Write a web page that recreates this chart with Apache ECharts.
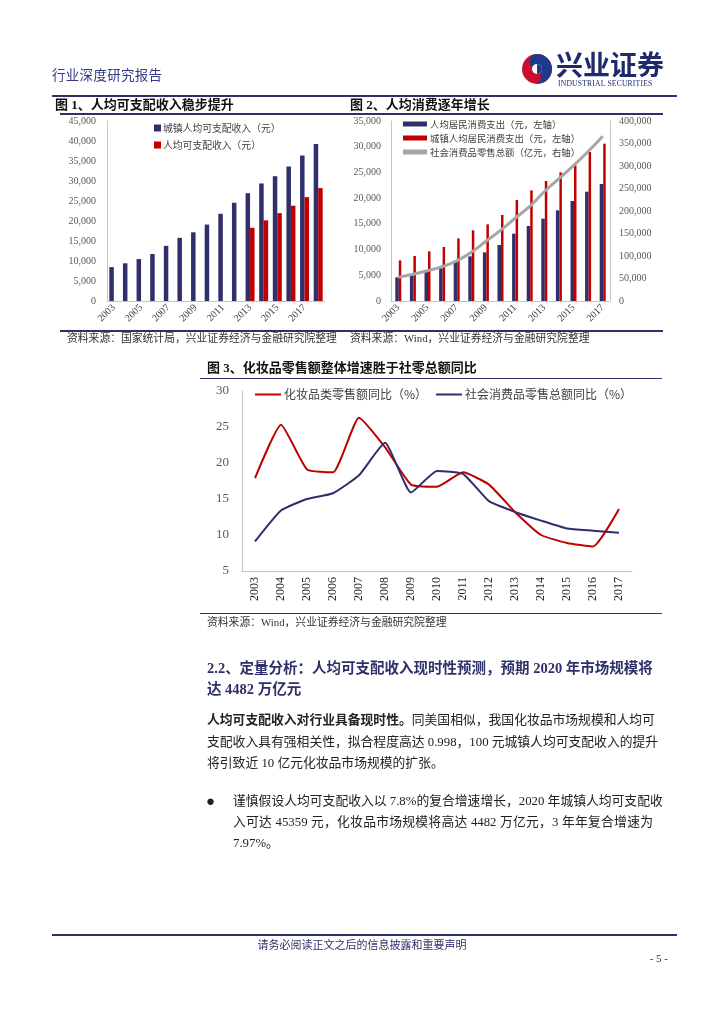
<!DOCTYPE html>
<html><head><meta charset="utf-8">
<script src="https://cdn.jsdelivr.net/npm/echarts@6/dist/echarts.min.js"></script>
<style>
body{margin:0;width:724px;height:1024px;position:relative;background:#fff;overflow:hidden;font-family:'Liberation Serif','Noto Sans CJK SC',serif;}
#chart{position:absolute;left:0;top:0;width:724px;height:1024px;}
.t{position:absolute;white-space:nowrap;line-height:1;color:#222;z-index:2;}
.hl{position:absolute;background:#2e3169;z-index:2;}
.j{text-align:justify;text-align-last:justify;}
</style></head><body>
<div id="chart"></div>

<div class="t" style="left:52px;top:69px;font-size:13.5px;color:#333a86;letter-spacing:0.3px;">行业深度研究报告</div>
<svg style="position:absolute;left:521px;top:51px;z-index:2" width="32" height="36" viewBox="0 0 32 36">
  <circle cx="16" cy="18" r="15" fill="#c8102e"/>
  <path d="M16 3 A15 15 0 0 1 16 33 A9 9 0 0 0 16 18 A7 7 0 0 1 16 3 Z" fill="#1f3a8a"/>
  <circle cx="16" cy="18" r="5" fill="#fff"/>
  <path d="M16 13 A5 5 0 0 1 16 23 Z" fill="#1f3a8a"/>
</svg>
<div class="t" style="left:556px;top:50px;font-size:27px;font-weight:bold;color:#1f2a6b;font-family:'Noto Sans CJK SC';">兴业证券</div>
<div class="t" style="left:558px;top:80px;font-size:7.6px;color:#1f2a6b;letter-spacing:0.2px;">INDUSTRIAL SECURITIES</div>
<div class="hl" style="left:52px;top:95px;width:625px;height:2px;"></div>

<div class="t" style="left:55px;top:98px;font-size:13px;font-weight:bold;color:#111;">图 1、人均可支配收入稳步提升</div>
<div class="t" style="left:350px;top:98px;font-size:13px;font-weight:bold;color:#111;">图 2、人均消费逐年增长</div>
<div class="hl" style="left:60px;top:113px;width:603px;height:1.5px;"></div>
<div class="hl" style="left:60px;top:330px;width:603px;height:1.5px;"></div>
<div class="t" style="left:67px;top:333px;font-size:10.8px;color:#333;">资料来源：国家统计局，兴业证券经济与金融研究院整理</div>
<div class="t" style="left:350px;top:333px;font-size:10.8px;color:#333;">资料来源：Wind，兴业证券经济与金融研究院整理</div>

<div class="t" style="left:207px;top:361px;font-size:13px;font-weight:bold;color:#111;">图 3、化妆品零售额整体增速胜于社零总额同比</div>
<div class="hl" style="left:200px;top:377.5px;width:462px;height:1.5px;"></div>
<div class="hl" style="left:200px;top:612.5px;width:462px;height:1.5px;"></div>
<div class="t" style="left:207px;top:617px;font-size:10.8px;color:#333;">资料来源：Wind，兴业证券经济与金融研究院整理</div>

<div class="t" style="left:207px;top:661px;font-size:14.5px;font-weight:bold;color:#2e3169;">2.2、定量分析：人均可支配收入现时性预测，预期 2020 年市场规模将</div>
<div class="t" style="left:207px;top:682px;font-size:14.5px;font-weight:bold;color:#2e3169;">达 4482 万亿元</div>

<div class="t j" style="left:207px;top:714px;width:446px;font-size:12.8px;"><b>人均可支配收入对行业具备现时性。</b>同美国相似，我国化妆品市场规模和人均可</div>
<div class="t j" style="left:207px;top:736px;width:446px;font-size:12.8px;">支配收入具有强相关性，拟合程度高达 0.998，100 元城镇人均可支配收入的提升</div>
<div class="t" style="left:207px;top:757px;font-size:12.8px;">将引致近 10 亿元化妆品市场规模的扩张。</div>

<div class="t" style="left:206px;top:794px;font-size:15px;">●</div>
<div class="t j" style="left:233px;top:795px;width:420px;font-size:12.8px;">谨慎假设人均可支配收入以 7.8%的复合增速增长，2020 年城镇人均可支配收</div>
<div class="t j" style="left:233px;top:816px;width:420px;font-size:12.8px;">入可达 45359 元，化妆品市场规模将高达 4482 万亿元，3 年年复合增速为</div>
<div class="t" style="left:233px;top:837px;font-size:12.8px;">7.97%。</div>

<div class="hl" style="left:52px;top:934px;width:625px;height:2px;"></div>
<div class="t" style="left:0;width:724px;text-align:center;top:939px;font-size:11px;color:#2e3169;font-family:'Noto Sans CJK SC';">请务必阅读正文之后的信息披露和重要声明</div>
<div class="t" style="left:640px;width:28px;text-align:right;top:953px;font-size:11px;color:#333;">- 5 -</div>

<script>
// ---------- data ----------
const years1 = ['2003','2004','2005','2006','2007','2008','2009','2010','2011','2012','2013','2014','2015','2016','2017','2018'];
const urbanDisposableIncome = [8472,9422,10493,11759,13786,15781,17175,19109,21810,24565,26955,29381,31195,33616,36396,39251];
const disposableIncome = [null,null,null,null,null,null,null,null,null,null,18311,20167,21966,23821,25974,28228];

const years2 = ['2003','2004','2005','2006','2007','2008','2009','2010','2011','2012','2013','2014','2015','2016','2017'];
const perCapitaSpending = [4600,5100,5960,6350,7580,8680,9460,10890,13090,14580,16000,17630,19440,21250,22745];
const urbanPerCapitaSpending = [7900,8750,9650,10500,12180,13740,14900,16720,19630,21510,23330,25010,26370,28970,30590];
const retailSalesTotal = [52516,59501,67177,76410,89210,108488,132678,156998,183919,210307,242843,271896,300931,332316,366262];

const years3 = ['2003','2004','2005','2006','2007','2008','2009','2010','2011','2012','2013','2014','2015','2016','2017'];
const cosmeticsYoY = [17.9,25.3,19.1,18.7,26.3,22.2,17.0,16.7,18.7,17.0,13.2,10.0,8.9,8.4,13.6];
const retailYoY = [9.1,13.4,15.0,15.8,18.3,22.8,15.9,18.9,18.5,14.7,13.2,12.0,10.9,10.6,10.3];

// ---------- styles ----------
const NAVY = '#2f2f6b', RED = '#c00000', GREY = '#a6a6a6';
const SERIF = "'Liberation Serif','Noto Sans CJK SC',serif";
const CJK = "'Noto Sans CJK SC','Liberation Serif',sans-serif";
const axisLineStyle = {lineStyle:{color:'#c4c4c4',width:1}};
const fmt = v => Number(v).toLocaleString('en-US');

const chart = echarts.init(document.getElementById('chart'), null, {renderer:'canvas'});
chart.setOption({
  animation:false,
  backgroundColor:'transparent',
  grid:[
    {left:107, top:121, width:218, height:180},
    {left:391, top:121, width:219, height:180},
    {left:242, top:391, width:390, height:180}
  ],
  legend:[
    {data:['城镇人均可支配收入（元）','人均可支配收入（元）'], orient:'vertical', left:154, top:122, padding:0,
     icon:'rect', itemWidth:7, itemHeight:7, itemGap:5,
     textStyle:{fontSize:9.8, lineHeight:12, color:'#404040', fontFamily:CJK, padding:[0,0,0,-3]}},
    {data:['人均居民消费支出（元，左轴）','城镇人均居民消费支出（元，左轴）','社会消费品零售总额（亿元，右轴）'],
     orient:'vertical', left:403, top:118, padding:0, icon:'rect', itemWidth:24, itemHeight:5, itemGap:2,
     textStyle:{fontSize:9.4, lineHeight:12, color:'#404040', fontFamily:CJK, padding:[0,0,0,-2]}},
    {data:['化妆品类零售额同比（%）','社会消费品零售总额同比（%）'], left:255, top:388, padding:0,
     icon:'rect', itemWidth:26, itemHeight:2, itemGap:9,
     textStyle:{fontSize:12, lineHeight:13, color:'#404040', fontFamily:CJK, padding:[0,0,0,-2]}}
  ],
  xAxis:[
    {type:'category', gridIndex:0, data:years1, axisLine:axisLineStyle,
     axisTick:{interval:1, length:4, lineStyle:{color:'#c4c4c4'}},
     axisLabel:{interval:1, rotate:45, fontSize:10, color:'#404040', fontFamily:SERIF, margin:5}},
    {type:'category', gridIndex:1, data:years2, axisLine:axisLineStyle,
     axisTick:{interval:1, length:4, lineStyle:{color:'#c4c4c4'}},
     axisLabel:{interval:1, rotate:45, fontSize:10, color:'#404040', fontFamily:SERIF, margin:5}},
    {type:'category', gridIndex:2, data:years3, axisLine:axisLineStyle,
     axisTick:{length:6, lineStyle:{color:'#c4c4c4'}},
     axisLabel:{interval:0, rotate:90, fontSize:12, color:'#262626', fontFamily:SERIF, margin:6}}
  ],
  yAxis:[
    {type:'value', gridIndex:0, min:0, max:45000, interval:5000, axisLine:{show:true,...axisLineStyle},
     axisTick:{show:false}, splitLine:{show:false},
     axisLabel:{formatter:fmt, fontSize:10, color:'#595959', fontFamily:SERIF, margin:11}},
    {type:'value', gridIndex:1, min:0, max:35000, interval:5000, axisLine:{show:true,...axisLineStyle},
     axisTick:{show:false}, splitLine:{show:false},
     axisLabel:{formatter:fmt, fontSize:10, color:'#595959', fontFamily:SERIF, margin:10}},
    {type:'value', gridIndex:1, position:'right', min:0, max:400000, interval:50000, axisLine:{show:true,...axisLineStyle},
     axisTick:{show:false}, splitLine:{show:false},
     axisLabel:{formatter:fmt, fontSize:10, color:'#595959', fontFamily:SERIF, margin:9}},
    {type:'value', gridIndex:2, min:5, max:30, interval:5, axisLine:{show:true,...axisLineStyle},
     axisTick:{show:false}, splitLine:{show:false},
     axisLabel:{fontSize:13, color:'#595959', fontFamily:SERIF, margin:13}}
  ],
  series:[
    {name:'城镇人均可支配收入（元）', type:'bar', xAxisIndex:0, yAxisIndex:0, data:urbanDisposableIncome,
     barWidth:4.5, barGap:'0%', itemStyle:{color:NAVY}},
    {name:'人均可支配收入（元）', type:'bar', xAxisIndex:0, yAxisIndex:0, data:disposableIncome,
     barWidth:4.5, barGap:'0%', itemStyle:{color:RED}},
    {name:'人均居民消费支出（元，左轴）', type:'bar', xAxisIndex:1, yAxisIndex:1, data:perCapitaSpending,
     barWidth:3.5, barGap:'0%', itemStyle:{color:NAVY}},
    {name:'城镇人均居民消费支出（元，左轴）', type:'bar', xAxisIndex:1, yAxisIndex:1, data:urbanPerCapitaSpending,
     barWidth:2.5, barGap:'0%', itemStyle:{color:RED}},
    {name:'社会消费品零售总额（亿元，右轴）', type:'line', xAxisIndex:1, yAxisIndex:2, data:retailSalesTotal,
     smooth:true, symbol:'none', lineStyle:{color:GREY, width:3}, itemStyle:{color:GREY}, z:5},
    {name:'化妆品类零售额同比（%）', type:'line', xAxisIndex:2, yAxisIndex:3, data:cosmeticsYoY,
     symbol:'none', smooth:0.15, lineStyle:{color:RED, width:2}, itemStyle:{color:RED}},
    {name:'社会消费品零售总额同比（%）', type:'line', xAxisIndex:2, yAxisIndex:3, data:retailYoY,
     symbol:'none', smooth:0.15, lineStyle:{color:NAVY, width:2}, itemStyle:{color:NAVY}}
  ]
});
</script>
</body></html>
